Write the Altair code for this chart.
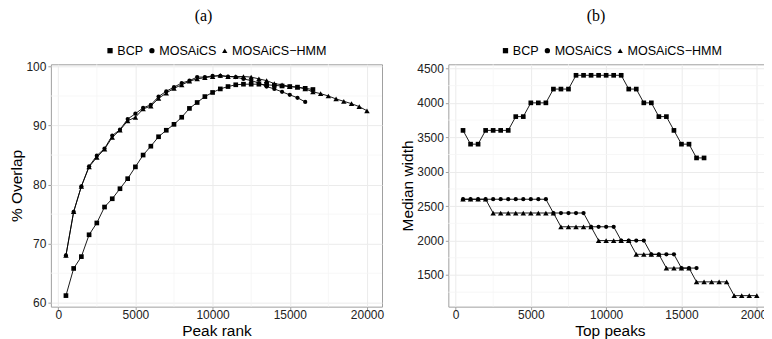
import altair as alt
import pandas as pd

# ---------------- data ----------------
ranks = [500, 1000, 1500, 2000, 2500, 3000, 3500, 4000, 4500, 5000,
         5500, 6000, 6500, 7000, 7500, 8000, 8500, 9000, 9500, 10000,
         10500, 11000, 11500, 12000, 12500, 13000, 13500, 14000, 14500, 15000,
         15500, 16000, 16500, 17000, 17500, 18000, 18500, 19000, 19500, 20000]

methods = ["BCP", "MOSAiCS", "MOSAiCS\u2212HMM"]
shapes = ["square", "circle", "triangle-up"]
point_sizes = [22, 18, 30]

# panel (a): % overlap vs peak rank
a_bcp = [61.2, 65.8, 67.8, 71.5, 73.5, 76.2, 77.6, 79.3, 81.0, 83.0,
         85.0, 86.5, 88.1, 89.2, 90.2, 91.4, 92.9, 93.9, 94.9, 95.6,
         96.2, 96.6, 96.9, 97.0, 97.0, 97.0, 96.9, 96.8, 96.7, 96.6,
         96.5, 96.3, 96.1]
a_mos = [68.0, 75.4, 79.7, 83.1, 84.9, 86.1, 88.3, 89.3, 91.1, 92.0,
         93.0, 93.5, 94.9, 95.8, 96.5, 97.2, 97.6, 98.2, 98.2, 98.4,
         98.4, 98.3, 98.2, 97.9, 97.6, 97.2, 96.6, 96.2, 95.7, 95.2,
         94.7, 94.0]
a_hmm = [68.0, 75.4, 79.7, 83.0, 84.6, 86.0, 88.0, 89.2, 90.8, 91.4,
         92.8, 93.3, 94.6, 95.5, 96.3, 96.9, 97.5, 97.9, 98.1, 98.3,
         98.5, 98.3, 98.3, 98.3, 98.2, 97.9, 97.6, 97.1, 96.9, 96.6,
         96.5, 96.2, 95.7, 95.4, 95.0, 94.5, 94.1, 93.7, 93.2, 92.5]

# panel (b): median width vs top peaks
b_bcp = [3600, 3400, 3400, 3600, 3600, 3600, 3600, 3800, 3800, 4000,
         4000, 4000, 4200, 4200, 4200, 4400, 4400, 4400, 4400, 4400,
         4400, 4400, 4200, 4200, 4000, 4000, 3800, 3800, 3600, 3400,
         3400, 3200, 3200]
b_mos = [2600, 2600, 2600, 2600, 2600, 2600, 2600, 2600, 2600, 2600,
         2600, 2600, 2400, 2400, 2400, 2400, 2400, 2200, 2200, 2200,
         2200, 2000, 2000, 2000, 2000, 1800, 1800, 1800, 1800, 1600,
         1600, 1600]
b_hmm = [2600, 2600, 2600, 2600, 2400, 2400, 2400, 2400, 2400, 2400,
         2400, 2400, 2400, 2200, 2200, 2200, 2200, 2200, 2000, 2000,
         2000, 2000, 2000, 1800, 1800, 1800, 1800, 1600, 1600, 1600,
         1600, 1400, 1400, 1400, 1400, 1400, 1200, 1200, 1200, 1200]

x_major = [0, 5000, 10000, 15000, 20000]
x_minor = [2500, 7500, 12500, 17500]
a_y_major = [60, 70, 80, 90, 100]
a_y_minor = [65, 75, 85, 95]
b_y_major = [1500, 2000, 2500, 3000, 3500, 4000, 4500]
b_y_minor = [1250, 1750, 2250, 2750, 3250, 3750, 4250]


def frame(series):
    rows = []
    for m, vals in zip(methods, series):
        for r, v in zip(ranks, vals):
            rows.append({"rank": r, "value": v, "method": m})
    return pd.DataFrame(rows)


FONT = "Liberation Sans"
GRID = "#EBEBEB"
MINOR = "#F5F5F5"


def panel(df, xdom, ydom, xtitle, ytitle, ymaj, ymin, w, h, ttl, tdx, lx, ly):
    xs = alt.Scale(domain=xdom, nice=False, zero=False)
    ys = alt.Scale(domain=ydom, nice=False, zero=False)
    xax = alt.Axis(title=xtitle, values=x_major, format="d", grid=True,
                   labelFlush=False, labelOverlap=False)
    yax = alt.Axis(title=ytitle, values=ymaj, format="d", grid=True,
                   labelOverlap=False)
    leg = alt.Legend(title=None, orient="none", legendX=lx, legendY=ly,
                     direction="horizontal", labelFont=FONT,
                     labelFontSize=12.6, labelColor="black", symbolSize=28,
                     labelOffset=1, columnPadding=2, symbolFillColor="black",
                     symbolStrokeWidth=0)
    shape_enc = alt.Shape("method:N",
                          scale=alt.Scale(domain=methods, range=shapes),
                          legend=leg)
    minor_x = alt.Chart(pd.DataFrame({"v": x_minor})).mark_rule(
        color=MINOR, strokeWidth=0.8).encode(
        x=alt.X("v:Q", scale=xs, axis=xax))
    minor_y = alt.Chart(pd.DataFrame({"v": ymin})).mark_rule(
        color=MINOR, strokeWidth=0.8).encode(
        y=alt.Y("v:Q", scale=ys, axis=yax))
    base = alt.Chart(df).encode(
        x=alt.X("rank:Q", scale=xs, axis=xax),
        y=alt.Y("value:Q", scale=ys, axis=yax),
    )
    lines = base.mark_line(color="black", strokeWidth=0.9).encode(
        detail="method:N", order="rank:Q")
    layers = [minor_x, minor_y, lines]
    for m, s in zip(methods, point_sizes):
        layers.append(
            base.transform_filter(alt.datum.method == m)
            .mark_point(filled=True, color="black", opacity=1, size=s)
            .encode(shape=shape_enc)
        )
    return alt.layer(*layers).properties(
        width=w, height=h,
        title=alt.TitleParams(text=ttl, font="Liberation Serif", fontSize=16,
                              fontWeight="normal", color="black",
                              anchor="middle", frame="group", dx=tdx,
                              offset=20.5),
    )


left = panel(frame([a_bcp, a_mos, a_hmm]), [-475, 20975], [59.33, 100.37],
             "Peak rank", "% Overlap", a_y_major, a_y_minor,
             332, 243, "(a)", -13, 53, -20)
right = panel(frame([b_bcp, b_mos, b_hmm]), [-475, 20975], [1040, 4560],
              "Top peaks", "Median width", b_y_major, b_y_minor,
              324, 243, "(b)", -14, 51, -20)

chart = alt.hconcat(left, right, spacing=14.5).resolve_scale(
    x="independent", y="independent", shape="independent"
).resolve_legend(shape="independent").properties(
    padding={"left": 0, "top": -1, "right": -10, "bottom": 0},
    background="white"
).configure_view(
    stroke="#A0A0A0", strokeWidth=1
).configure_axis(
    labelFont=FONT, labelFontSize=12, labelColor="#222222",
    titleFont=FONT, titleFontSize=15.5, titleFontWeight="normal",
    titleColor="black", tickColor="#A0A0A0", tickSize=3, tickWidth=1,
    domain=False, gridColor=GRID, gridWidth=1
).configure_axisX(
    labelPadding=0, titlePadding=3
).configure_axisY(
    labelPadding=2, titlePadding=1.5
)

chart.save("out.html", embed_options={"renderer": "svg", "actions": False})
